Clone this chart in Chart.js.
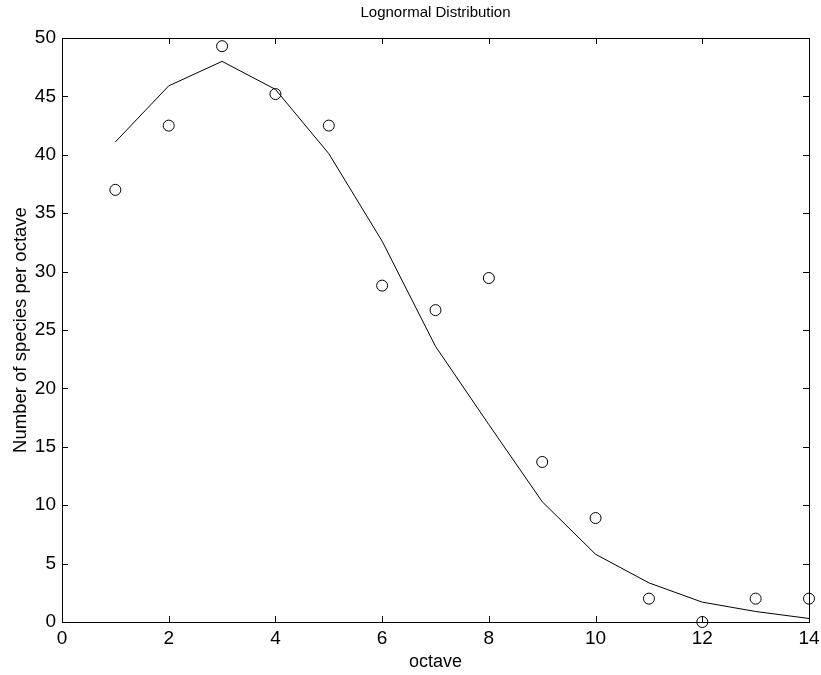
<!DOCTYPE html>
<html>
<head>
<meta charset="utf-8">
<script src="https://cdn.jsdelivr.net/npm/chart.js@4"></script>
<style>
  html, body { margin: 0; padding: 0; background: #fff; }
  #wrap { width: 821px; height: 675px; }
</style>
</head>
<body>
<div id="wrap"><canvas id="lognormal-chart" width="821" height="675"></canvas></div>
<script>
const octaves = [1, 2, 3, 4, 5, 6, 7, 8, 9, 10, 11, 12, 13, 14];
const observed = [37, 42.5, 49.3, 45.2, 42.5, 28.8, 26.7, 29.45, 13.7, 8.9, 2.0, 0, 2.0, 2.0];
const fitted = [41.1, 45.9, 48.0, 45.6, 40.1, 32.6, 23.6, 16.9, 10.3, 5.8, 3.35, 1.7, 0.9, 0.3];
const xTicks = [0, 2, 4, 6, 8, 10, 12, 14];
const yTicks = [0, 5, 10, 15, 20, 25, 30, 35, 40, 45, 50];

const font = "'Liberation Sans', Arial, Helvetica, sans-serif";

function toPoints(xs, ys) {
  return xs.map((x, i) => ({ x: x, y: ys[i] }));
}

// matlab style box with ticks pointing inward on all four sides
const boxTicks = {
  id: 'boxTicks',
  afterDatasetsDraw(chart) {
    const { ctx, chartArea: a, scales } = chart;
    const len = 6;
    ctx.save();
    ctx.strokeStyle = '#000';
    ctx.lineWidth = 1;
    ctx.beginPath();
    xTicks.forEach(v => {
      const px = Math.round(scales.x.getPixelForValue(v)) + 0.5;
      ctx.moveTo(px, a.bottom); ctx.lineTo(px, a.bottom - len);
      ctx.moveTo(px, a.top); ctx.lineTo(px, a.top + len);
    });
    yTicks.forEach(v => {
      const py = Math.round(scales.y.getPixelForValue(v)) + 0.5;
      ctx.moveTo(a.left, py); ctx.lineTo(a.left + len, py);
      ctx.moveTo(a.right, py); ctx.lineTo(a.right - len, py);
    });
    ctx.stroke();
    ctx.strokeRect(Math.round(a.left) + 0.5, Math.round(a.top) + 0.5,
      Math.round(a.right - a.left), Math.round(a.bottom - a.top));
    ctx.restore();
  }
};

new Chart(document.getElementById('lognormal-chart'), {
  type: 'scatter',
  data: {
    datasets: [{
      label: 'fit',
      data: toPoints(octaves, fitted),
      showLine: true,
      borderColor: '#000',
      borderWidth: 1,
      pointRadius: 0,
      fill: false,
      tension: 0
    }, {
      label: 'observed',
      data: toPoints(octaves, observed),
      showLine: false,
      pointStyle: 'circle',
      pointRadius: 5.5,
      borderColor: '#000',
      borderWidth: 1,
      backgroundColor: 'rgba(0,0,0,0)'
    }]
  },
  options: {
    responsive: false,
    animation: false,
    clip: false,
    layout: { padding: { left: 0, right: 12, top: 0, bottom: 0 } },
    plugins: {
      legend: { display: false },
      tooltip: { enabled: false },
      title: {
        display: true,
        fullSize: false,
        text: 'Lognormal Distribution',
        color: '#000',
        font: { family: font, size: 15, weight: 'normal' },
        padding: { top: 4, bottom: 16 }
      }
    },
    scales: {
      x: {
        type: 'linear',
        min: 0,
        max: 14,
        afterFit: s => { s.height = 53; s.paddingLeft = 0; s.paddingRight = 0; },
        afterBuildTicks: s => { s.ticks = xTicks.map(v => ({ value: v })); },
        grid: { display: false, drawTicks: false },
        border: { display: false },
        ticks: { color: '#000', padding: 5, maxRotation: 0, font: { family: font, size: 19 } },
        title: {
          display: true,
          text: 'octave',
          color: '#000',
          font: { family: font, size: 18 },
          padding: { top: 0, bottom: 2 }
        }
      },
      y: {
        type: 'linear',
        min: 0,
        max: 50,
        afterFit: s => { s.width = 62; s.paddingTop = 0; s.paddingBottom = 0; },
        afterBuildTicks: s => { s.ticks = yTicks.map(v => ({ value: v })); },
        grid: { display: false, drawTicks: false },
        border: { display: false },
        ticks: { color: '#000', padding: 6, font: { family: font, size: 19 } },
        title: {
          display: true,
          text: 'Number of species per octave',
          color: '#000',
          font: { family: font, size: 18.5 },
          padding: { top: 10, bottom: 0 }
        }
      }
    }
  },
  plugins: [boxTicks]
});
</script>
</body>
</html>
